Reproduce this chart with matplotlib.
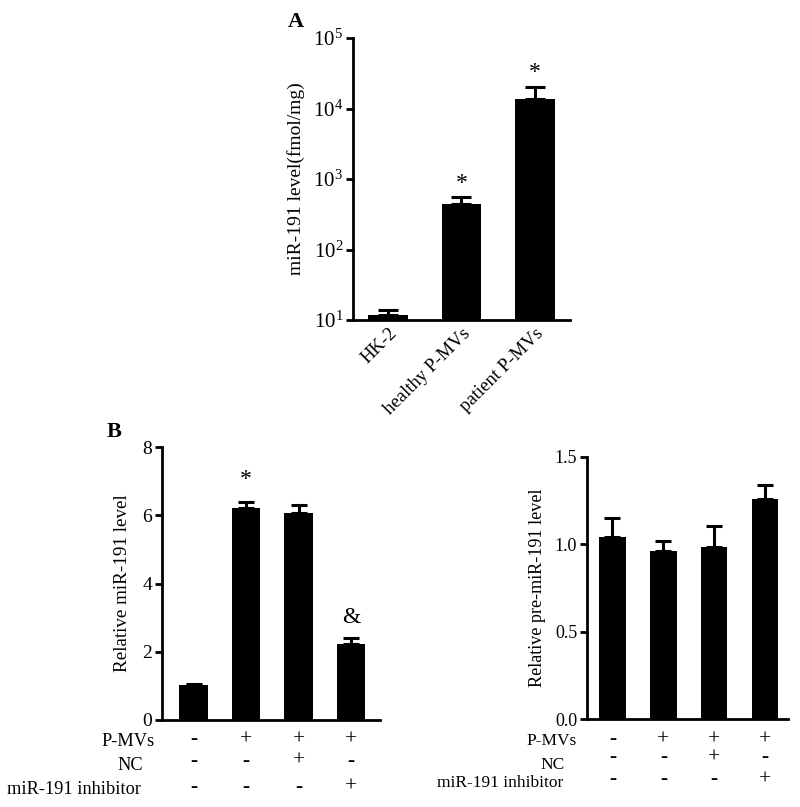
import matplotlib
matplotlib.use("Agg")
import matplotlib.pyplot as plt
import matplotlib.transforms as mtransforms
import numpy as np

plt.rcParams['font.family'] = ['Liberation Serif', 'DejaVu Serif']
plt.rcParams['mathtext.fontset'] = 'custom'
plt.rcParams['mathtext.rm'] = 'Liberation Serif'
plt.rcParams['mathtext.it'] = 'Liberation Serif:italic'
plt.rcParams['mathtext.bf'] = 'Liberation Serif:bold'

# Panel A data
a_categories = ["HK-2", "healthy P-MVs", "patient P-MVs"]
a_values = [11.8, 441, 13800]
a_errors = [2.1, 110, 6600]
a_marks = ["", "*", "*"]

# Panel B left data
bl_values = [1.02, 6.2, 6.06, 2.24]
bl_errors = [0.04, 0.18, 0.24, 0.15]
bl_marks = ["", "*", "", "&"]

# Panel B right data
br_values = [1.043, 0.96, 0.983, 1.259]
br_errors = [0.109, 0.059, 0.123, 0.08]

# treatment table
row_names = ["P-MVs", "NC", "miR-191 inhibitor"]
pmvs = ["-", "+", "+", "+"]
nc = ["-", "-", "+", "-"]
inhib = ["-", "-", "-", "+"]

W, H = 800, 807
fig = plt.figure(figsize=(W / 100, H / 100), dpi=100)

def fy(pix):
    return 1 - pix / H

def add_ax(x0, x1, ytop, ybot):
    return fig.add_axes([x0 / W, fy(ybot), (x1 - x0) / W, (ybot - ytop) / H])

def style(ax, lsize):
    for s in ["top", "right"]:
        ax.spines[s].set_visible(False)
    for s in ["left", "bottom"]:
        ax.spines[s].set_linewidth(2)
        ax.spines[s].set_color("black")
    ax.tick_params(axis="y", width=2, length=5, labelsize=lsize, direction="out", pad=2)
    ax.tick_params(axis="x", length=0, labelsize=13)

def draw_bars(ax, x, vals, errs, width, capsize):
    ax.bar(x, vals, width=width, color="black", zorder=2)
    ax.errorbar(x, vals, yerr=[np.zeros(len(vals)), errs], fmt="none",
                ecolor="black", elinewidth=2.2, capsize=capsize, capthick=2.2, zorder=3)

# ---------------- Panel A ----------------
axA = add_ax(353, 570, 38, 320)
style(axA, 15)
xa = np.arange(len(a_values))
axA.set_yscale("log")
draw_bars(axA, xa, a_values, a_errors, 0.54, 7)
axA.set_ylim(10, 1e5)
axA.set_xlim(-0.48, 2.48)
axA.set_yticks([1e1, 1e2, 1e3, 1e4, 1e5])
axA.set_yticklabels([r"$\mathregular{10^{%d}}$" % k for k in range(1, 6)])
axA.yaxis.set_minor_locator(matplotlib.ticker.NullLocator())
axA.set_xticks(xa)
axA.set_xticklabels(a_categories, rotation=45, ha="right", rotation_mode="anchor", fontsize=13.5)
axA.set_ylabel("miR-191 level(fmol/mg)", fontsize=14, labelpad=6)
for xi, v, e, m in zip(xa, a_values, a_errors, a_marks):
    if m:
        axA.text(xi, (v + e) * 1.12, m, ha="center", va="bottom", fontsize=17)
fig.text(288 / W, fy(22), "A", fontsize=16, fontweight="bold", ha="left", va="center")

# ---------------- Panel B left ----------------
axL = add_ax(162, 380, 447, 720)
style(axL, 14)
xb = np.arange(len(bl_values))
draw_bars(axL, xb, bl_values, bl_errors, 0.54, 6)
axL.set_ylim(0, 8)
axL.set_xlim(-0.6, 3.55)
axL.set_yticks([0, 2, 4, 6, 8])
axL.set_xticks([])
axL.set_ylabel("Relative miR-191 level", fontsize=13.7, labelpad=8)
for xi, v, e, m in zip(xb, bl_values, bl_errors, bl_marks):
    if m == "*":
        axL.text(xi, v + e + 0.35, m, ha="center", va="bottom", fontsize=17)
    elif m == "&":
        axL.text(xi, v + e + 0.3, m, ha="center", va="bottom", fontsize=17)
fig.text(107 / W, fy(432), "B", fontsize=16, fontweight="bold", ha="left", va="center")

# ---------------- Panel B right ----------------
axR = add_ax(587, 788, 457, 719)
style(axR, 13)
draw_bars(axR, xb, br_values, br_errors, 0.52, 6)
axR.set_ylim(0, 1.5)
axR.set_xlim(-0.5, 3.45)
axR.set_yticks([0.0, 0.5, 1.0, 1.5])
axR.set_yticklabels(["0.0", "0.5", "1.0", "1.5"])
axR.set_xticks([])
axR.set_ylabel("Relative pre-miR-191 level", fontsize=13.1, labelpad=6)

# ---------------- treatment tables ----------------
def table(ax, name_x, name_ys, sym_ys, fs_name):
    tr = mtransforms.blended_transform_factory(ax.transData, fig.transFigure)
    rows = [pmvs, nc, inhib]
    for name, nx, ny in zip(row_names, name_x, name_ys):
        fig.text(nx / W, fy(ny), name, ha="right", va="center", fontsize=fs_name)
    for row, sy in zip(rows, sym_ys):
        for xi, s in zip(xb, row):
            ax.text(xi, fy(sy), s, transform=tr, ha="center", va="center", fontsize=15.5)

table(axL, [155, 143, 141], [741, 765, 789], [740, 761, 787], 13.2)
table(axR, [577, 565, 563], [741, 765, 783], [740, 758, 780], 12.5)

fig.savefig("out.png", dpi=100, facecolor="white")
